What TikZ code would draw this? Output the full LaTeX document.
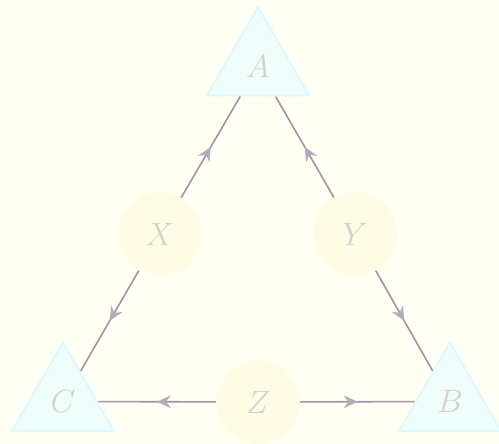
\documentclass[tikz,border=0pt]{standalone}
\usetikzlibrary{shapes.geometric,arrows.meta,decorations.markings}
\definecolor{bgc}{HTML}{FFFFF4}
\definecolor{trifill}{HTML}{EFFDFB}
\definecolor{tridraw}{HTML}{DCFAFF}
\definecolor{cfill}{HTML}{FEFCE4}
\definecolor{txt}{HTML}{D2D2D0}
\definecolor{lnc}{HTML}{A095A4}
\definecolor{tipc}{HTML}{B5ABB8}
\newcommand{\biglab}[1]{\scalebox{1.3}{$#1$}}
\begin{document}
\begin{tikzpicture}[x=1pt,y=-1pt,
  tri/.style={regular polygon,regular polygon sides=3,minimum size=118pt,inner sep=0pt,
    fill=trifill,draw=tridraw,line width=2pt,text=txt,font=\Huge},
  circ/.style={circle,minimum size=84pt,inner sep=0pt,fill=cfill,text=txt,
    font=\Huge},
  link/.style={draw=lnc,line width=1.6pt,postaction={decorate},
    decoration={markings,mark=at position 0.5 with {\arrow[tipc]{Stealth[length=14pt,width=13pt,inset=5pt]}}}}]
\fill[bgc] (0,0) rectangle (499,444);
\useasboundingbox (0,0) rectangle (499,444);
\node[tri] (A) at (258,66) {\biglab{A}};
\node[tri] (C) at (63,401.5) {\biglab{C}};
\node[tri] (B) at (450,401.5) {\biglab{B}};
\node[circ] (X) at (160,234) {\biglab{X}};
\node[circ] (Y) at (355,234) {\biglab{Y}};
\node[circ] (Z) at (258,402) {\biglab{Z}};
\path[link] (X) -- (A);
\path[link] (X) -- (C);
\path[link] (Y) -- (A);
\path[link] (Y) -- (B);
\path[link] (Z) -- (C);
\path[link] (Z) -- (B);
\end{tikzpicture}
\end{document}
